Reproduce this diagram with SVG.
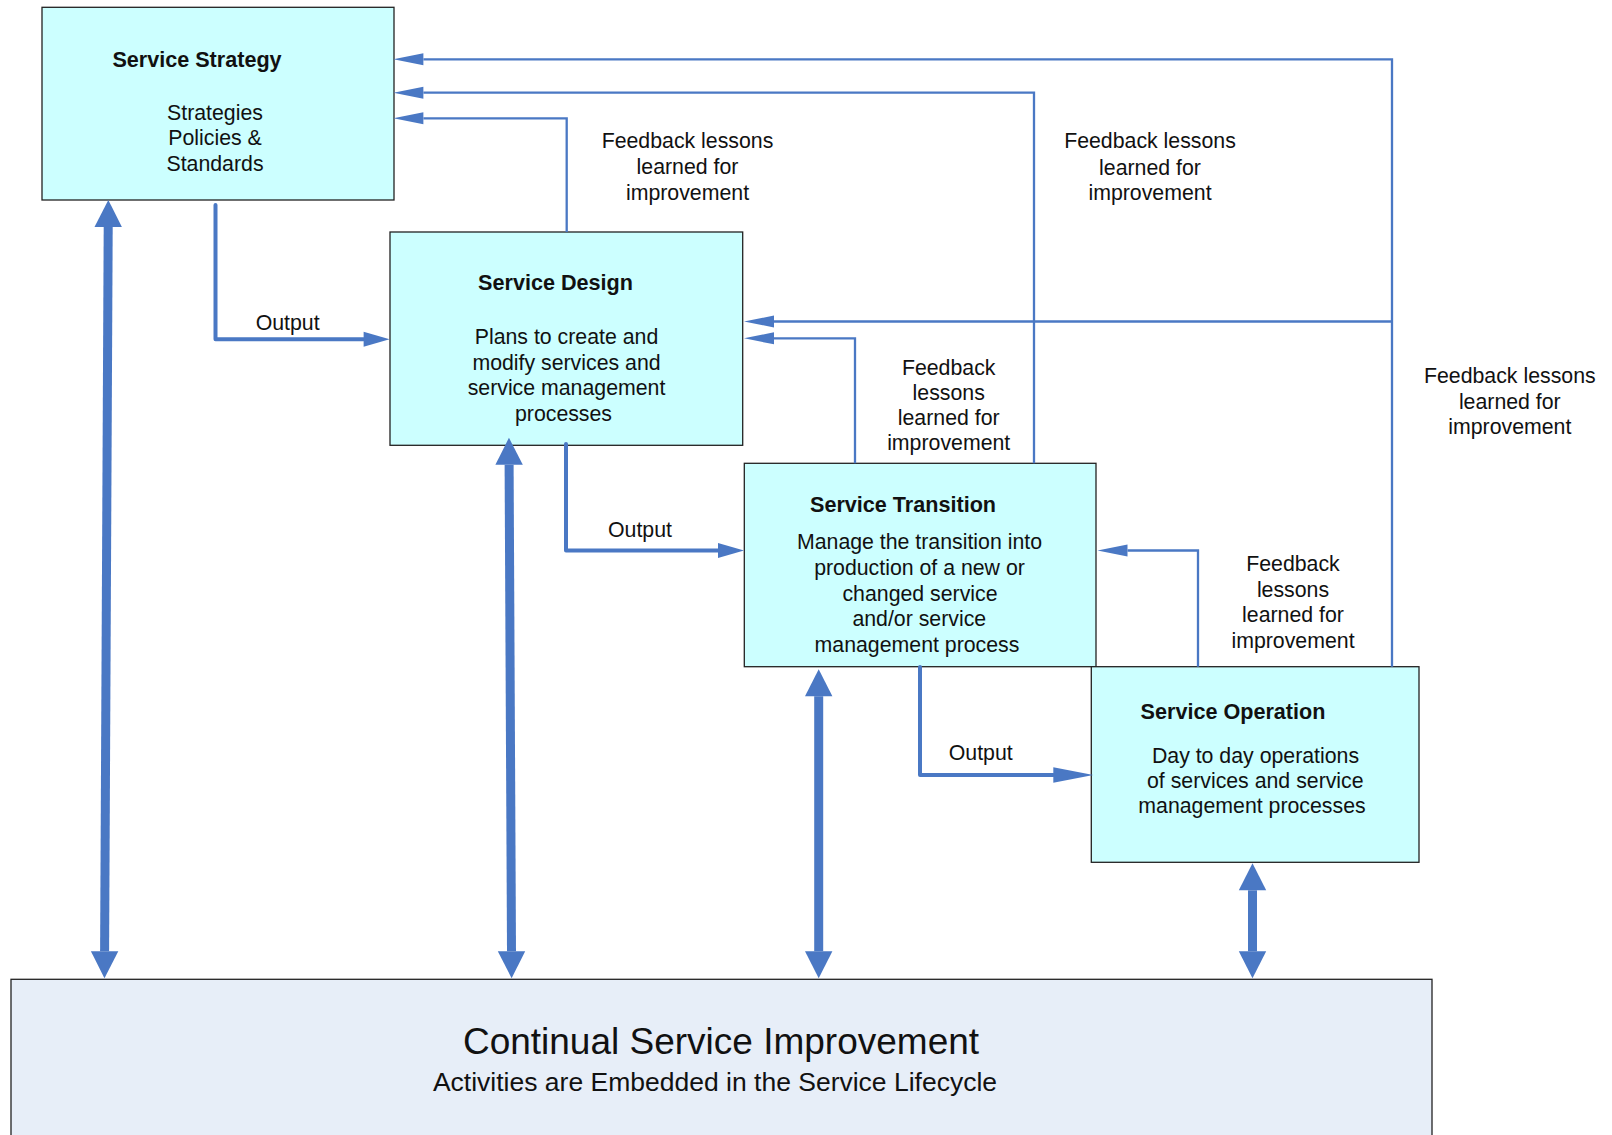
<svg xmlns="http://www.w3.org/2000/svg" width="1612" height="1135" viewBox="0 0 1612 1135">
<style>
  text { font-family: "Liberation Sans", Arial, sans-serif; font-size: 21.3px; fill: #111; text-anchor: middle; }
  .title { font-weight: bold; font-size: 21.6px; }
  .box { fill: #CCFFFF; stroke: #222; stroke-width: 1.3; }
  .csi { fill: #E7EEF8; stroke: #222; stroke-width: 1.3; }
  .fb { fill: none; stroke: #4A78C4; stroke-width: 2.3; marker-end: url(#thinHead); }
  .out { fill: none; stroke: #4A78C4; stroke-width: 4; stroke-linecap: round; stroke-linejoin: round; }
  .dbl { fill: none; stroke: #4A78C4; stroke-width: 9; marker-start: url(#bigHead); marker-end: url(#bigHead); }
</style>
<defs>
  <marker id="thinHead" markerUnits="userSpaceOnUse" markerWidth="30" markerHeight="12" refX="0" refY="6" orient="auto" overflow="visible">
    <path d="M0,0 L30,6 L0,12 Z" fill="#4A78C4"/>
  </marker>
  <marker id="outHead" markerUnits="userSpaceOnUse" markerWidth="26" markerHeight="15" refX="0" refY="7.5" orient="auto" overflow="visible">
    <path d="M0,0 L26,7.5 L0,15 Z" fill="#4A78C4"/>
  </marker>
  <marker id="outHeadLong" markerUnits="userSpaceOnUse" markerWidth="40" markerHeight="15.4" refX="0" refY="7.7" orient="auto" overflow="visible">
    <path d="M0,0 L40,7.7 L0,15.4 Z" fill="#4A78C4"/>
  </marker>
  <marker id="bigHead" markerUnits="userSpaceOnUse" markerWidth="27" markerHeight="27.4" refX="0" refY="13.7" orient="auto-start-reverse" overflow="visible">
    <path d="M0,0 L27,13.7 L0,27.4 Z" fill="#4A78C4"/>
  </marker>
</defs>

<g id="csi">
  <rect class="csi" x="11" y="979.3" width="1421" height="170"/>
  <text x="721" y="1054" style="font-size:37px">Continual Service Improvement</text>
  <text x="715" y="1090.7" style="font-size:26.5px">Activities are Embedded in the Service Lifecycle</text>
</g>

<g id="service-strategy">
  <rect class="box" x="42" y="7.3" width="352" height="192.7"/>
  <text class="title" x="197" y="66.7">Service Strategy</text>
  <text x="215" y="119.5">Strategies</text>
  <text x="215" y="145">Policies &amp;</text>
  <text x="215" y="170.7">Standards</text>
</g>

<g id="service-design">
  <rect class="box" x="390" y="232" width="352.7" height="213.3"/>
  <text class="title" x="555.5" y="290">Service Design</text>
  <text x="566.5" y="344">Plans to create and</text>
  <text x="566.5" y="370">modify services and</text>
  <text x="566.5" y="395">service management</text>
  <text x="563.5" y="420.5">processes</text>
</g>

<g id="service-transition">
  <rect class="box" x="744.3" y="463.3" width="351.7" height="203.4"/>
  <text class="title" x="903" y="511.7">Service Transition</text>
  <text x="919.5" y="549.3">Manage the transition into</text>
  <text x="919.5" y="575.3">production of a new or</text>
  <text x="920" y="600.7">changed service</text>
  <text x="919.3" y="625.7">and/or service</text>
  <text x="917" y="651.7">management process</text>
</g>

<g id="service-operation">
  <rect class="box" x="1091.3" y="666.7" width="327.7" height="195.6"/>
  <text class="title" x="1233" y="719.3">Service Operation</text>
  <text x="1255.5" y="762.7">Day to day operations</text>
  <text x="1255.3" y="787.7">of services and service</text>
  <text x="1252" y="813.3">management processes</text>
</g>

<g id="connectors">
  <path class="fb" d="M566.7,232 V118.3 H423.4"/>
  <path class="fb" d="M1034,463.3 V92.7 H423.4"/>
  <path class="fb" d="M1392,666.7 V59.3 H423.4"/>
  <path class="fb" d="M1392,321.5 H774"/>
  <path class="fb" d="M855,463.3 V338.3 H774"/>
  <path class="fb" d="M1198,666.7 V550.5 H1127.5"/>
  <path class="out" d="M215.5,205 V339.3 H363.6" marker-end="url(#outHead)"/>
  <path class="out" d="M566,444 V550.5 H718" marker-end="url(#outHead)"/>
  <path class="out" d="M920,667 V775 H1053.3" marker-end="url(#outHeadLong)"/>
  <line class="dbl" x1="108.2" y1="227" x2="104.6" y2="951.3"/>
  <line class="dbl" x1="509.1" y1="464.7" x2="511.5" y2="951.3"/>
  <line class="dbl" x1="818.7" y1="696.3" x2="818.7" y2="951.3"/>
  <line class="dbl" x1="1252.5" y1="890.3" x2="1252.5" y2="951.3"/>
</g>

<g id="labels">
  <text x="287.6" y="330">Output</text>
  <text x="640" y="536.7">Output</text>
  <text x="980.7" y="760">Output</text>

  <text x="687.5" y="148.3">Feedback lessons</text>
  <text x="687.5" y="174.3">learned for</text>
  <text x="687.5" y="200">improvement</text>

  <text x="1150" y="148.3">Feedback lessons</text>
  <text x="1150" y="175">learned for</text>
  <text x="1150" y="200">improvement</text>

  <text x="948.7" y="375">Feedback</text>
  <text x="948.7" y="400">lessons</text>
  <text x="948.7" y="425">learned for</text>
  <text x="948.7" y="450">improvement</text>

  <text x="1293" y="571">Feedback</text>
  <text x="1293" y="596.7">lessons</text>
  <text x="1293" y="622.3">learned for</text>
  <text x="1293" y="647.7">improvement</text>

  <text x="1509.8" y="382.7">Feedback lessons</text>
  <text x="1509.8" y="409.3">learned for</text>
  <text x="1509.8" y="434.3">improvement</text>
</g>
</svg>
